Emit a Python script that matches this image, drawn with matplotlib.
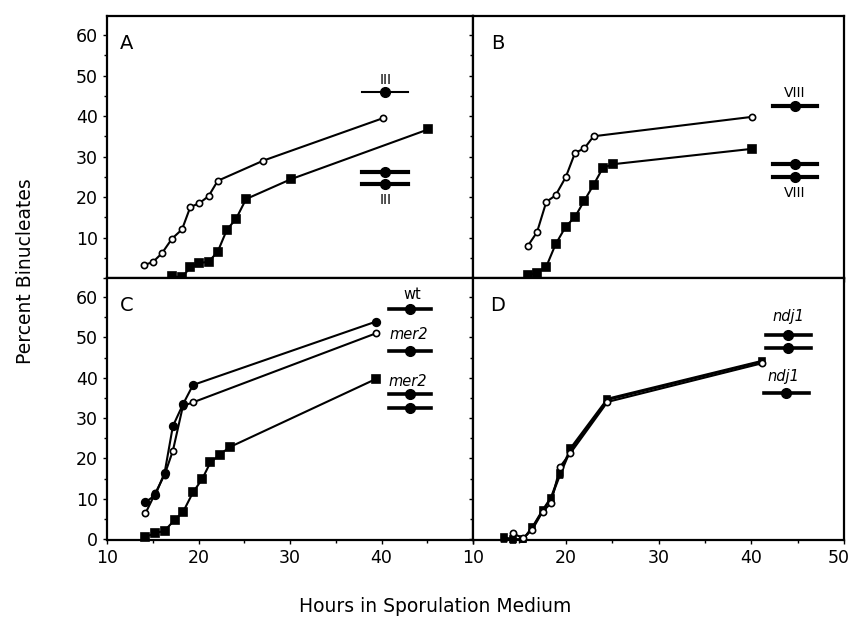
import matplotlib
matplotlib.use('Agg')
import matplotlib.pyplot as plt
import matplotlib.transforms as mtransforms
import numpy as np

plt.rcParams['font.family'] = 'DejaVu Sans'

# ---- panel A ----
a_open_x = [14.0, 15.0, 16.0, 17.1, 18.2, 19.1, 20.1, 21.1, 22.1, 27.1, 40.2]
a_open_y = [3.2, 3.9, 6.1, 9.7, 12.0, 17.5, 18.5, 20.2, 24.0, 29.0, 39.5]
a_sq_x = [17.1, 18.2, 19.1, 20.1, 21.1, 22.1, 23.1, 24.1, 25.2, 30.1, 45.1]
a_sq_y = [0.4, 0.2, 2.6, 3.7, 4.0, 6.5, 11.9, 14.6, 19.5, 24.4, 36.7]
a_bar_y = [45.9, 26.2, 23.2]

# ---- panel B ----
b_open_x = [15.9, 16.9, 17.9, 18.9, 20.0, 21.0, 22.0, 23.0, 40.1]
b_open_y = [7.9, 11.3, 18.8, 20.4, 24.9, 30.9, 32.0, 35.0, 39.8]
b_sq_x = [15.9, 16.9, 17.9, 18.9, 20.0, 21.0, 22.0, 23.0, 24.0, 25.1, 40.1]
b_sq_y = [0.7, 1.3, 2.8, 8.3, 12.7, 15.1, 19.1, 23.0, 27.2, 28.1, 31.9]
b_bar_y = [42.5, 28.1, 24.9]

# ---- panel C ----
c_wt_x = [14.2, 15.3, 16.3, 17.2, 18.3, 19.4, 39.4]
c_wt_y = [9.1, 11.0, 16.5, 28.0, 33.4, 38.2, 53.9]
c_open_x = [14.2, 15.3, 16.3, 17.2, 18.3, 19.4, 39.4]
c_open_y = [6.4, 11.5, 16.0, 21.9, 33.0, 33.9, 51.0]
c_sq_x = [14.2, 15.3, 16.3, 17.4, 18.3, 19.4, 20.4, 21.3, 22.3, 23.4, 39.4]
c_sq_y = [0.6, 1.5, 2.1, 4.8, 6.7, 11.6, 14.9, 19.0, 20.9, 22.8, 39.7]
c_bar_y = [57.0, 46.6, 36.0, 32.5]

# ---- panel D ----
d_x = [13.3, 14.3, 15.4, 16.4, 17.5, 18.4, 19.4, 20.5, 24.5, 41.2]
d_sq_y = [0.5, 0.0, 0.0, 3.0, 7.2, 10.3, 16.5, 22.5, 34.8, 44.2]
d_tri_y = [0.0, -0.3, 0.0, 2.8, 7.0, 10.0, 16.0, 22.0, 34.5, 44.0]
d_open_x = [14.3, 15.4, 16.4, 17.5, 18.4, 19.4, 20.5, 24.5, 41.2]
d_open_y = [1.5, 0.2, 2.4, 6.8, 8.9, 18.0, 21.3, 34.0, 43.6]
d_bar_y = [50.6, 47.3, 36.3]

fig = plt.figure(figsize=(8.52, 6.2), dpi=100)
W, H = 852.0, 620.0
axA = fig.add_axes([107/W, 1-278/H, 366/W, 262/H])
axB = fig.add_axes([473/W, 1-278/H, 371/W, 262/H])
axC = fig.add_axes([107/W, 1-540/H, 366/W, 262/H])
axD = fig.add_axes([473/W, 1-540/H, 371/W, 262/H])

for ax in [axA, axB, axC, axD]:
    ax.set_xlim(10, 50)
    for s in ax.spines.values():
        s.set_linewidth(1.6)
    ax.set_xticks([10, 20, 30, 40, 50])
    ax.set_xticks([15, 25, 35, 45], minor=True)
    ax.set_yticks([0, 10, 20, 30, 40, 50, 60])
    ax.set_yticks([5, 15, 25, 35, 45, 55], minor=True)
    ax.tick_params(which='major', direction='out', length=3, width=1, labelsize=12.5)
    ax.tick_params(which='minor', direction='out', length=2, width=1)

axA.set_ylim(0, 64.7)
axB.set_ylim(0, 64.7)
axC.set_ylim(-0.2, 64.7)
axD.set_ylim(-0.2, 64.7)

axA.set_xticklabels([])
axB.set_xticklabels([])
axA.set_yticklabels(['', '10', '20', '30', '40', '50', '60'])
axB.set_yticklabels([])
axD.set_yticklabels([])
axC.set_xticklabels(['10', '20', '30', '40', ''])
axD.set_xticklabels(['10', '20', '30', '40', '50'])
# nudge the last label so it stays inside the figure
last = axD.get_xticklabels()[-1]
last.set_transform(last.get_transform() + mtransforms.ScaledTranslation(-5/100, 0, fig.dpi_scale_trans))

lw = 1.5
def series(ax, x, y, marker, filled, ms):
    ax.plot(x, y, '-', color='black', lw=lw, marker=marker, ms=ms,
            mfc='black' if filled else 'white', mec='black', mew=1.2,
            clip_on=False, zorder=3)

def bar(ax, xc, y, hw, width):
    ax.plot([xc - hw, xc + hw], [y, y], '-', color='black', lw=width, zorder=3)
    ax.plot([xc], [y], 'o', color='black', ms=7, zorder=4)

# A
series(axA, a_open_x, a_open_y, 'o', False, 4.5)
series(axA, a_sq_x, a_sq_y, 's', True, 5.5)
bar(axA, 40.4, a_bar_y[0], 2.5, 1.5)
bar(axA, 40.4, a_bar_y[1], 2.5, 3)
bar(axA, 40.4, a_bar_y[2], 2.5, 3)
axA.text(40.4, 48.9, 'III', ha='center', va='center', fontsize=10)
axA.text(40.4, 19.3, 'III', ha='center', va='center', fontsize=10)

# B
series(axB, b_open_x, b_open_y, 'o', False, 4.5)
series(axB, b_sq_x, b_sq_y, 's', True, 5.5)
for y in b_bar_y:
    bar(axB, 44.7, y, 2.4, 3)
axB.text(44.7, 45.6, 'VIII', ha='center', va='center', fontsize=10)
axB.text(44.7, 21.1, 'VIII', ha='center', va='center', fontsize=10)

# C
series(axC, c_sq_x, c_sq_y, 's', True, 5.5)
series(axC, c_open_x, c_open_y, 'o', False, 4.5)
series(axC, c_wt_x, c_wt_y, 'o', True, 5.5)
for y in c_bar_y:
    bar(axC, 43.1, y, 2.3, 2.6)
axC.text(43.4, 60.5, 'wt', ha='center', va='center', fontsize=10.5)
axC.text(43.0, 50.6, 'mer2', ha='center', va='center', fontsize=10.5, style='italic')
axC.text(42.9, 39.0, 'mer2', ha='center', va='center', fontsize=10.5, style='italic')

# D
series(axD, d_x, d_sq_y, 's', True, 5)
series(axD, d_x, d_tri_y, '^', True, 5)
series(axD, d_open_x, d_open_y, 'o', False, 4.5)
bar(axD, 44.0, d_bar_y[0], 2.45, 2.6)
bar(axD, 44.0, d_bar_y[1], 2.45, 2.6)
bar(axD, 43.8, d_bar_y[2], 2.45, 2.6)
axD.text(44.0, 55.1, 'ndj1', ha='center', va='center', fontsize=10.5, style='italic')
axD.text(43.5, 40.4, 'ndj1', ha='center', va='center', fontsize=10.5, style='italic')

for ax, letter, xf in [(axA, 'A', 0.034), (axB, 'B', 0.048), (axC, 'C', 0.036), (axD, 'D', 0.046)]:
    ax.text(xf, 0.895, letter, transform=ax.transAxes, ha='left', va='center', fontsize=14)

fig.text(26/W, 1-271/H, 'Percent Binucleates', rotation=90, ha='center', va='center', fontsize=13.5)
fig.text(435/W, 1-607/H, 'Hours in Sporulation Medium', ha='center', va='center', fontsize=13.5)

fig.savefig('out.png', dpi=100)
